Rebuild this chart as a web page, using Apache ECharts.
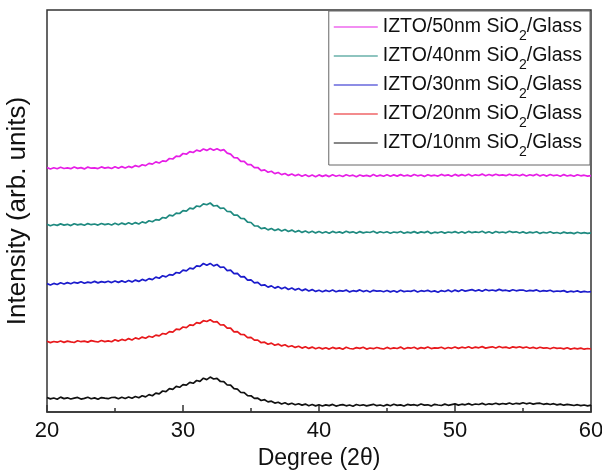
<!DOCTYPE html>
<html>
<head>
<meta charset="utf-8">
<script src="https://cdn.jsdelivr.net/npm/echarts@6/dist/echarts.min.js"></script>
<style>
html,body{margin:0;padding:0;background:#fff;}
#chart{width:602px;height:470px;}
</style>
</head>
<body>
<div id="chart"></div>
<script>
// Scan: 2θ from 20° to 60° in 0.25° steps (161 points per pattern)
const scanStart = 20;
const scanStep = 0.25;

const seriesNames = [
  'IZTO/10nm SiO2/Glass',
  'IZTO/20nm SiO2/Glass',
  'IZTO/30nm SiO2/Glass',
  'IZTO/40nm SiO2/Glass',
  'IZTO/50nm SiO2/Glass'
];
const legendOrder = [
  'IZTO/50nm SiO2/Glass',
  'IZTO/40nm SiO2/Glass',
  'IZTO/30nm SiO2/Glass',
  'IZTO/20nm SiO2/Glass',
  'IZTO/10nm SiO2/Glass'
];
const xTicks = [20, 30, 40, 50, 60];

// Intensities (arb. units, vertically offset as plotted)
const int10nm = [
  14.5, 13.1, 14.0, 12.8, 14.9, 13.4, 14.2, 13.0, 13.9, 14.6, 12.9, 13.6, 14.7, 13.2, 14.1, 12.7, 14.4, 13.8, 13.3, 14.5,
  14.6, 13.2, 14.8, 13.5, 15.0, 13.7, 15.5, 14.2, 16.3, 15.1, 17.4, 16.3, 18.9, 18.1, 21.0, 20.3, 23.4, 22.6, 25.6, 24.7,
  27.4, 26.8, 29.6, 28.7, 31.5, 30.6, 33.8, 32.4, 34.9, 33.0, 33.6, 30.5, 30.4, 27.0, 26.9, 23.3, 22.8, 19.5, 19.3, 16.4,
  16.2, 13.6, 13.8, 11.5, 12.3, 10.1, 10.8, 8.9, 9.8, 8.0, 9.3, 7.6, 8.7, 7.2, 8.3, 6.9, 7.9, 6.3, 7.5, 6.1,
  7.3, 6.0, 7.1, 6.4, 7.6, 5.9, 6.8, 7.4, 6.2, 7.0, 5.8, 7.5, 6.5, 7.2, 6.1, 6.9, 7.7, 6.3, 7.0, 6.0,
  7.4, 6.2, 7.8, 6.6, 7.1, 6.0, 7.6, 6.8, 7.3, 6.4, 8.0, 6.9, 7.2, 6.1, 7.7, 7.0, 6.5, 7.9, 6.7, 7.4,
  8.1, 6.9, 7.8, 7.2, 8.4, 7.0, 8.0, 7.5, 8.6, 7.3, 8.2, 7.7, 8.8, 7.6, 8.5, 7.9, 9.0, 7.8, 8.7, 8.1,
  9.3, 8.2, 9.0, 7.9, 8.6, 8.8, 7.7, 8.4, 7.5, 8.3, 7.1, 7.9, 6.8, 7.6, 7.2, 6.5, 7.3, 6.4, 7.0, 6.2,
  6.8
];
const int20nm = [
  70.8, 69.4, 70.5, 69.8, 71.0, 69.6, 70.9, 70.1, 69.5, 71.2, 70.3, 70.9, 69.9, 71.4, 70.6, 70.0, 71.5, 70.4, 71.1, 70.2,
  72.3, 70.9, 72.6, 71.5, 73.4, 72.0, 74.1, 73.0, 74.9, 73.8, 75.7, 74.8, 76.9, 76.1, 78.5, 77.9, 80.4, 79.9, 82.9, 82.4,
  85.0, 84.4, 87.1, 86.6, 89.4, 88.7, 91.3, 90.5, 92.2, 90.0, 90.4, 87.0, 87.1, 83.8, 83.9, 80.1, 80.3, 77.5, 77.4, 74.3,
  74.6, 71.8, 71.9, 69.3, 69.8, 67.7, 68.9, 66.8, 67.9, 66.1, 67.2, 65.3, 66.3, 64.6, 65.8, 63.9, 65.3, 63.6, 64.9, 63.3,
  64.5, 63.1, 64.3, 62.9, 64.6, 63.4, 64.1, 62.8, 64.7, 63.5, 63.0, 64.4, 63.6, 64.8, 62.9, 64.0, 63.3, 64.5, 63.7, 63.0,
  64.6, 63.2, 64.1, 63.5, 64.9, 63.0, 64.3, 63.8, 64.7, 63.1, 64.4, 63.6, 65.0, 63.4, 64.2, 63.9, 64.8, 63.3, 64.5, 63.7,
  65.0, 63.6, 64.8, 64.0, 65.3, 63.7, 64.9, 64.2, 65.4, 63.9, 64.6, 65.2, 64.0, 65.5, 64.3, 64.9, 63.8, 65.1, 64.4, 65.3,
  64.1, 65.0, 63.7, 64.6, 63.5, 64.8, 63.9, 64.2, 63.3, 64.5, 63.6, 64.0, 63.1, 64.3, 62.9, 63.8, 63.2, 63.9, 62.8, 63.5,
  63.0
];
const int30nm = [
  128.4, 127.0, 128.6, 127.5, 129.2, 128.0, 129.4, 128.3, 129.7, 128.9, 130.3, 128.7, 129.9, 129.2, 130.6, 129.1, 130.4, 129.6, 130.8, 129.4,
  131.0, 129.6, 131.1, 129.8, 131.5, 130.1, 131.9, 130.6, 132.6, 131.3, 133.4, 132.4, 134.9, 133.8, 136.2, 135.1, 137.4, 136.8, 139.5, 138.9,
  141.9, 141.2, 143.9, 143.2, 146.2, 145.6, 148.5, 146.8, 148.6, 146.1, 147.5, 144.7, 145.0, 141.4, 141.9, 138.4, 138.6, 135.1, 135.4, 131.9,
  132.1, 129.2, 129.7, 126.6, 127.2, 124.9, 126.1, 123.9, 125.4, 123.2, 124.7, 122.5, 124.0, 122.1, 123.5, 121.4, 122.9, 121.0, 122.4, 120.6,
  121.8, 120.3, 121.6, 120.5, 122.0, 120.2, 121.4, 120.8, 121.9, 120.1, 121.3, 120.6, 122.1, 120.4, 121.5, 120.0, 121.7, 120.9, 121.2, 120.3,
  121.5, 120.1, 121.2, 119.9, 121.7, 120.4, 121.0, 120.6, 121.8, 120.0, 121.3, 120.7, 121.6, 120.2, 121.1, 119.8, 121.4, 120.5, 121.9, 120.3,
  121.9, 120.6, 122.2, 120.9, 121.7, 122.4, 121.0, 122.1, 120.8, 122.5, 121.3, 122.0, 121.1, 122.6, 121.4, 121.8, 120.9, 122.3, 121.2, 121.9,
  122.0, 120.7, 121.6, 121.1, 122.1, 120.5, 121.3, 120.9, 121.8, 120.3, 121.0, 120.6, 121.4, 119.9, 120.8, 120.2, 121.1, 119.8, 120.6, 120.0,
  120.3
];
const int40nm = [
  187.8, 186.3, 187.5, 186.6, 188.1, 186.9, 187.7, 186.4, 188.3, 187.1, 187.9, 186.8, 188.4, 187.3, 188.0, 186.9, 188.5, 187.4, 188.2, 187.0,
  188.8, 187.3, 188.9, 187.6, 189.2, 187.8, 189.4, 188.0, 190.1, 189.0, 191.3, 190.2, 192.4, 191.8, 194.5, 193.9, 196.9, 196.2, 198.9, 198.5,
  201.4, 200.9, 203.9, 203.1, 206.0, 205.3, 208.1, 207.2, 209.0, 206.0, 206.5, 203.7, 204.0, 200.5, 200.4, 196.8, 196.9, 193.6, 193.4, 189.8,
  189.5, 186.1, 186.0, 183.4, 184.2, 182.1, 183.5, 181.5, 182.9, 181.0, 182.5, 180.5, 181.9, 180.0, 181.4, 179.6, 181.0, 179.3, 180.8, 179.1,
  180.5, 179.0, 180.3, 178.8, 180.6, 179.2, 180.1, 178.9, 180.7, 179.4, 180.2, 178.7, 180.4, 179.1, 180.0, 179.5, 180.8, 178.9, 180.3, 179.2,
  180.2, 178.8, 180.0, 179.3, 180.5, 178.7, 179.9, 179.1, 180.4, 178.9, 180.1, 179.4, 180.6, 178.6, 179.8, 179.2, 180.3, 178.9, 180.0, 179.3,
  180.4, 179.0, 180.2, 178.9, 180.6, 179.3, 180.1, 179.5, 180.7, 179.1, 180.3, 178.8, 180.5, 179.4, 180.0, 179.2, 180.8, 179.6, 180.2, 179.0,
  180.1, 178.7, 179.9, 179.2, 180.3, 178.6, 179.7, 179.0, 180.2, 178.8, 179.5, 178.5, 179.9, 178.9, 179.4, 178.4, 179.8, 178.7, 179.3, 178.6,
  179.1
];
const int50nm = [
  244.5, 243.0, 244.3, 243.2, 244.8, 243.5, 244.1, 243.3, 245.0, 243.6, 244.4, 243.1, 244.9, 243.8, 244.2, 243.4, 245.1, 243.9, 244.6, 243.5,
  245.3, 243.8, 245.4, 244.0, 245.6, 244.4, 246.4, 245.2, 247.3, 246.4, 248.6, 247.9, 250.1, 249.0, 251.1, 250.7, 253.5, 253.0, 255.9, 255.5,
  258.5, 257.8, 260.4, 259.5, 261.9, 260.8, 263.0, 261.6, 263.4, 261.7, 263.3, 261.4, 262.4, 258.9, 257.9, 254.4, 254.1, 250.7, 250.6, 247.3,
  247.4, 244.3, 244.5, 241.4, 242.1, 239.8, 240.8, 238.4, 239.5, 237.4, 238.5, 236.6, 238.0, 236.2, 237.6, 235.8, 237.2, 235.5, 237.0, 235.3,
  237.1, 235.6, 236.9, 235.4, 237.2, 235.8, 236.7, 235.5, 237.3, 236.0, 236.8, 235.3, 237.0, 235.9, 236.6, 235.6, 237.4, 235.7, 236.9, 235.8,
  237.3, 235.8, 237.1, 235.9, 237.4, 236.0, 236.9, 235.7, 237.5, 236.2, 237.0, 235.6, 237.2, 236.1, 236.8, 235.9, 237.6, 236.3, 237.1, 235.8,
  237.6, 236.1, 237.4, 236.3, 237.8, 236.0, 237.2, 236.5, 237.9, 236.2, 237.5, 236.4, 237.7, 236.6, 237.1, 236.3, 237.8, 236.5, 237.3, 236.2,
  237.6, 236.0, 237.3, 236.4, 237.7, 236.1, 237.2, 235.9, 237.5, 236.3, 237.0, 235.8, 237.4, 236.0, 236.9, 235.7, 237.3, 236.2, 236.8, 235.9,
  236.4
];

const seriesValues = [int10nm, int20nm, int30nm, int40nm, int50nm];
const seriesColors = ['#111111', '#e8191c', '#1c1ccc', '#1f8a80', '#e61ee6'];

function toPairs(values) {
  return values.map(function (v, i) { return [scanStart + i * scanStep, v]; });
}

const FONT = "'Liberation Sans', Arial, sans-serif";
const chart = echarts.init(document.getElementById('chart'), null, { renderer: 'canvas' });

chart.setOption({
  animation: false,
  backgroundColor: '#ffffff',
  grid: {
    left: 47, right: 11, top: 10, bottom: 58,
    outerBoundsMode: 'none',
    containLabel: false,
    show: true, borderColor: '#333333', borderWidth: 1.5, backgroundColor: 'transparent'
  },
  legend: {
    data: legendOrder,
    orient: 'vertical',
    right: 12,
    top: 11,
    padding: [0, 8, 6, 5],
    itemGap: -3,
    itemWidth: 44,
    itemHeight: 1.2,
    icon: 'rect',
    borderColor: '#666666',
    borderWidth: 1,
    backgroundColor: '#ffffff',
    formatter: function (name) { return name.replace('SiO2', 'SiO{sub|2}'); },
    textStyle: {
      fontFamily: FONT, fontSize: 19.5, color: '#111111', lineHeight: 20,
      rich: {
        sub: {
          fontFamily: FONT, fontSize: 14, color: '#111111', lineHeight: 32,
          verticalAlign: 'bottom'
        }
      }
    }
  },
  xAxis: {
    type: 'value',
    min: 20, max: 60, interval: 10,
    name: 'Degree (2θ)',
    nameLocation: 'middle',
    nameGap: 35,
    nameTextStyle: { fontFamily: FONT, fontSize: 23, color: '#111111' },
    axisLine: { show: true, lineStyle: { color: '#333333', width: 1.5 } },
    axisTick: { show: true, inside: true, length: 7, lineStyle: { color: '#333333', width: 1.5 } },
    minorTick: { show: true, splitNumber: 2, length: 4, lineStyle: { color: '#333333', width: 1.5 } },
    axisLabel: {
      fontFamily: FONT, fontSize: 22, color: '#111111', margin: 8,
      customValues: xTicks
    },
    splitLine: { show: false }
  },
  yAxis: {
    type: 'value',
    min: 0, max: 402,
    name: 'Intensity (arb. units)',
    nameLocation: 'middle',
    nameGap: 16,
    nameTextStyle: { fontFamily: FONT, fontSize: 26, color: '#111111' },
    axisLine: { show: false },
    axisTick: { show: false },
    axisLabel: { show: false },
    splitLine: { show: false }
  },
  series: seriesNames.map(function (name, k) {
    return {
      name: name,
      type: 'line',
      data: toPairs(seriesValues[k]),
      symbol: 'none',
      smooth: false,
      color: seriesColors[k],
      lineStyle: { color: seriesColors[k], width: 1.7 },
      z: 2 + k
    };
  })
});
</script>
</body>
</html>
